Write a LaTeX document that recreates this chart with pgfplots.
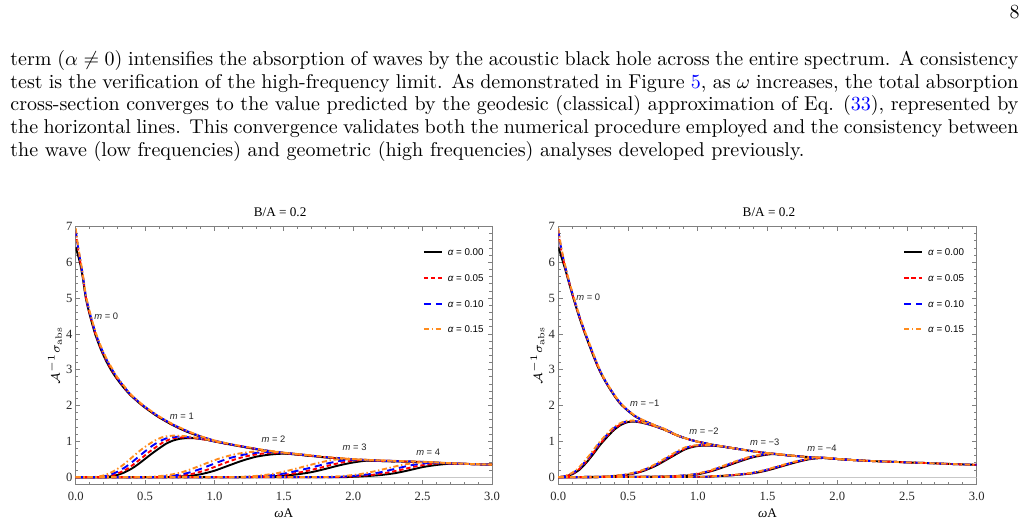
\documentclass[border=0pt]{standalone}
\usepackage{fontspec}
\usepackage{pgfplots}
\pgfplotsset{compat=1.18}
\newfontfamily\timesfont{Liberation Serif}
\newfontfamily\arialfont{Liberation Sans}
\definecolor{mred}{rgb}{1,0,0}
\definecolor{mblue}{rgb}{0,0,1}
\definecolor{morange}{RGB}{255,140,30}
\definecolor{linkblue}{rgb}{0,0,1}

\tikzset{mlab/.style={font=\arialfont\fontsize{4.7}{5}\selectfont, text=black!85, inner sep=0pt}}
\pgfplotsset{
  a0/.style={black, line width=0.95pt, smooth, tension=0.45},
  a1/.style={mred, line width=0.95pt, dash pattern=on 2.2pt off 1.4pt, smooth, tension=0.45},
  a2/.style={mblue, line width=0.95pt, dash pattern=on 3.6pt off 2.4pt, smooth, tension=0.45},
  a3/.style={morange, line width=0.95pt, dash pattern=on 2.6pt off 1.3pt on 0.7pt off 1.3pt, smooth, tension=0.45},
  absframe/.style={
    scale only axis, anchor=south west, height=128.9pt,
    xmin=0, xmax=3, ymin=-0.2, ymax=7,
    xtick={0,0.5,1,1.5,2,2.5,3}, ytick={0,1,2,3,4,5,6,7},
    minor x tick num=4, minor y tick num=4,
    tick align=inside, tick pos=both,
    xticklabel pos=lower, yticklabel pos=left,
    major tick length=2.2pt, minor tick length=1.3pt,
    every tick/.style={black!50, line width=0.4pt},
    axis line style={black!50, line width=0.5pt},
    ticklabel style={font=\timesfont\fontsize{6.3}{7}\selectfont, text=black!85},
    xticklabel style={/pgf/number format/fixed, /pgf/number format/fixed zerofill,
      /pgf/number format/precision=1, inner sep=0pt, yshift=-3.7pt},
    yticklabel style={inner sep=0pt, xshift=-1.5pt},
    /pgf/number format/assume math mode=true,
    clip mode=individual,
    legend image code/.code={\draw[#1] (0pt,0pt) -- (9pt,0pt);},
    legend cell align=left,
    legend style={draw=none, fill=none, inner sep=0pt, outer sep=0pt,
      anchor=north west, font=\arialfont\fontsize{4.9}{5}\selectfont,
      row sep=9.35pt, nodes={inner sep=0pt, text height=3.5pt, text depth=0pt},
      /tikz/every odd column/.append style={column sep=2.5pt}},
  },
}

\begin{document}
\begin{tikzpicture}[x=0.5pt,y=-0.5pt]
\useasboundingbox (0,0) rectangle (1028,524);

% page number and running text
\begingroup
\fontsize{10}{12}\selectfont
\node[anchor=base east, inner sep=0pt] at (1020,18.5) {8};
\node[anchor=base west, inner sep=0pt] at (10,66) {\makebox[504pt][s]{term ($\alpha \neq 0$) intensifies the absorption of waves by the acoustic black hole across the entire spectrum. A consistency}};
\node[anchor=base west, inner sep=0pt] at (10,88.5) {\makebox[504pt][s]{test is the verification of the high-frequency limit. As demonstrated in Figure {\color{linkblue}5}, as $\omega$ increases, the total absorption}};
\node[anchor=base west, inner sep=0pt] at (10,111) {\makebox[504pt][s]{cross-section converges to the value predicted by the geodesic (classical) approximation of Eq. ({\color{linkblue}33}), represented by}};
\node[anchor=base west, inner sep=0pt] at (10,133.5) {\makebox[504pt][s]{the horizontal lines. This convergence validates both the numerical procedure employed and the consistency between}};
\node[anchor=base west, inner sep=0pt] at (10,156) {the wave (low frequencies) and geometric (high frequencies) analyses developed previously.};
\endgroup

% ---------------- left panel: m >= 0 ----------------
\begin{axis}[absframe, at={(37.85pt,-242.15pt)}, width=208.15pt,
  legend style={at={(axis description cs:0.834,0.914)}}]
\addplot[black!22, line width=0.6pt, forget plot] coordinates {(0,0)(3,0)};
% total (m = 0 and above)
\addplot[a0, forget plot] coordinates {(0,6.42)(0.015,6.22)(0.03,6.0)(0.05,5.6)(0.073,5.0)(0.1,4.55)(0.14,4.0)(0.18,3.58)(0.22,3.24)(0.26,2.96)(0.3,2.73)(0.35,2.48)(0.4,2.27)(0.48,2.0)(0.55,1.8)(0.6,1.67)(0.7,1.45)(0.8,1.27)(0.9,1.13)(1.0,1.01)(1.1,0.92)(1.2,0.85)(1.3,0.78)(1.4,0.72)(1.5,0.67)(1.6,0.63)(1.7,0.59)(1.8,0.55)(1.9,0.52)(2.0,0.49)(2.1,0.47)(2.2,0.45)(2.3,0.44)(2.4,0.43)(2.5,0.42)(2.6,0.4)(2.7,0.38)(2.8,0.37)(2.9,0.36)(3.0,0.35)};
\addplot[a0, forget plot] coordinates {(0,0)(0.2,0)(0.25,0.02)(0.3,0.06)(0.35,0.13)(0.4,0.23)(0.45,0.36)(0.5,0.51)(0.55,0.66)(0.6,0.8)(0.65,0.93)(0.7,1.02)(0.75,1.07)(0.8,1.09)(0.85,1.09)(0.9,1.07)(0.95,1.04)(1.0,0.995)(1.05,0.96)(1.1,0.92)};
\addplot[a0, forget plot] coordinates {(0,0)(0.6,0)(0.7,0.01)(0.8,0.03)(0.9,0.08)(1.0,0.18)(1.1,0.32)(1.2,0.46)(1.3,0.57)(1.4,0.63)(1.5,0.655)(1.6,0.63)(1.7,0.59)};
\addplot[a0, forget plot] coordinates {(0,0)(1.2,0)(1.4,0.02)(1.5,0.04)(1.6,0.08)(1.7,0.14)(1.8,0.23)(1.9,0.33)(2.0,0.41)(2.1,0.46)(2.2,0.45)(2.3,0.44)};
\addplot[a0, forget plot] coordinates {(0,0)(1.8,0)(2.0,0.01)(2.1,0.03)(2.2,0.06)(2.3,0.11)(2.4,0.19)(2.5,0.28)(2.6,0.34)(2.7,0.375)(2.8,0.37)(2.9,0.36)(3.0,0.35)};
% alpha = 0.05
\addplot[a1, forget plot] coordinates {(0,6.85)(0.015,6.43)(0.03,6.08)(0.05,5.64)(0.073,5.03)(0.1,4.58)(0.14,4.03)(0.18,3.61)(0.22,3.27)(0.26,2.99)(0.3,2.75)(0.35,2.5)(0.4,2.28)(0.48,2.01)(0.55,1.81)(0.6,1.68)(0.7,1.46)(0.8,1.28)(0.9,1.135)(1.0,1.015)(1.1,0.925)(1.2,0.855)(1.3,0.785)(1.4,0.725)(1.5,0.675)(1.6,0.635)(1.7,0.595)(1.8,0.555)(1.9,0.525)(2.0,0.495)(2.1,0.475)(2.2,0.455)(2.3,0.445)(2.4,0.435)(2.5,0.423)(2.6,0.403)(2.7,0.383)(2.8,0.371)(2.9,0.36)(3.0,0.35)};
\addplot[a1, forget plot] coordinates {(0,0)(0.175,0)(0.225,0.02)(0.275,0.06)(0.325,0.14)(0.375,0.24)(0.425,0.38)(0.475,0.53)(0.525,0.69)(0.575,0.83)(0.625,0.96)(0.675,1.05)(0.725,1.1)(0.775,1.11)(0.825,1.1)(0.875,1.08)(0.925,1.05)(0.975,1.02)(1.025,0.98)(1.1,0.925)};
\addplot[a1, forget plot] coordinates {(0,0)(0.55,0)(0.65,0.01)(0.75,0.04)(0.85,0.1)(0.95,0.21)(1.05,0.36)(1.15,0.5)(1.25,0.6)(1.35,0.66)(1.45,0.68)(1.55,0.655)(1.6,0.635)(1.7,0.595)};
\addplot[a1, forget plot] coordinates {(0,0)(1.15,0)(1.35,0.02)(1.45,0.045)(1.55,0.09)(1.65,0.16)(1.75,0.25)(1.85,0.35)(1.95,0.43)(2.05,0.475)(2.15,0.465)(2.3,0.445)};
\addplot[a1, forget plot] coordinates {(0,0)(1.75,0)(1.95,0.01)(2.05,0.035)(2.15,0.07)(2.25,0.13)(2.35,0.21)(2.45,0.3)(2.55,0.36)(2.65,0.39)(2.75,0.377)(2.9,0.36)(3.0,0.35)};
% alpha = 0.10
\addplot[a2, forget plot] coordinates {(0,6.9)(0.015,6.47)(0.03,6.12)(0.05,5.67)(0.073,5.06)(0.1,4.61)(0.14,4.06)(0.18,3.64)(0.22,3.3)(0.26,3.02)(0.3,2.77)(0.35,2.52)(0.4,2.29)(0.48,2.02)(0.55,1.82)(0.6,1.69)(0.7,1.47)(0.8,1.29)(0.9,1.14)(1.0,1.02)(1.1,0.93)(1.2,0.86)(1.3,0.79)(1.4,0.73)(1.5,0.68)(1.6,0.64)(1.7,0.6)(1.8,0.56)(1.9,0.53)(2.0,0.5)(2.1,0.48)(2.2,0.46)(2.3,0.45)(2.4,0.44)(2.5,0.426)(2.6,0.406)(2.7,0.386)(2.8,0.372)(2.9,0.361)(3.0,0.35)};
\addplot[a2, forget plot] coordinates {(0,0)(0.15,0)(0.2,0.02)(0.25,0.07)(0.3,0.15)(0.35,0.26)(0.4,0.4)(0.45,0.56)(0.5,0.72)(0.55,0.87)(0.6,0.99)(0.65,1.08)(0.7,1.12)(0.75,1.13)(0.8,1.12)(0.85,1.1)(0.9,1.08)(0.95,1.04)(1.0,1.0)(1.05,0.965)(1.1,0.93)};
\addplot[a2, forget plot] coordinates {(0,0)(0.5,0)(0.6,0.01)(0.7,0.04)(0.8,0.11)(0.9,0.23)(1.0,0.38)(1.1,0.52)(1.2,0.62)(1.3,0.68)(1.4,0.7)(1.5,0.68)(1.6,0.64)(1.7,0.6)};
\addplot[a2, forget plot] coordinates {(0,0)(1.1,0)(1.3,0.02)(1.4,0.05)(1.5,0.1)(1.6,0.18)(1.7,0.27)(1.8,0.37)(1.9,0.45)(2.0,0.49)(2.1,0.475)(2.3,0.45)};
\addplot[a2, forget plot] coordinates {(0,0)(1.7,0)(1.9,0.01)(2.0,0.035)(2.1,0.075)(2.2,0.14)(2.3,0.23)(2.4,0.32)(2.5,0.38)(2.6,0.4)(2.7,0.385)(2.9,0.361)(3.0,0.35)};
% alpha = 0.15
\addplot[a3, forget plot] coordinates {(0,6.95)(0.015,6.51)(0.03,6.16)(0.05,5.7)(0.073,5.09)(0.1,4.64)(0.14,4.09)(0.18,3.67)(0.22,3.33)(0.26,3.05)(0.3,2.79)(0.35,2.54)(0.4,2.3)(0.48,2.03)(0.55,1.83)(0.6,1.7)(0.7,1.48)(0.8,1.3)(0.9,1.145)(1.0,1.025)(1.1,0.935)(1.2,0.865)(1.3,0.795)(1.4,0.735)(1.5,0.685)(1.6,0.645)(1.7,0.605)(1.8,0.565)(1.9,0.535)(2.0,0.505)(2.1,0.485)(2.2,0.465)(2.3,0.455)(2.4,0.445)(2.5,0.43)(2.6,0.41)(2.7,0.39)(2.8,0.374)(2.9,0.362)(3.0,0.35)};
\addplot[a3, forget plot] coordinates {(0,0)(0.12,0)(0.17,0.02)(0.22,0.07)(0.27,0.16)(0.32,0.28)(0.37,0.43)(0.42,0.6)(0.47,0.76)(0.52,0.9)(0.57,1.02)(0.62,1.11)(0.67,1.15)(0.72,1.16)(0.77,1.15)(0.82,1.13)(0.87,1.1)(0.92,1.07)(0.97,1.03)(1.02,0.99)(1.1,0.935)};
\addplot[a3, forget plot] coordinates {(0,0)(0.45,0)(0.55,0.01)(0.65,0.05)(0.75,0.12)(0.85,0.25)(0.95,0.4)(1.05,0.54)(1.15,0.64)(1.25,0.7)(1.35,0.73)(1.45,0.7)(1.55,0.66)(1.7,0.605)};
\addplot[a3, forget plot] coordinates {(0,0)(1.05,0)(1.25,0.02)(1.35,0.055)(1.45,0.11)(1.55,0.2)(1.65,0.3)(1.75,0.4)(1.85,0.48)(1.95,0.51)(2.05,0.49)(2.3,0.455)};
\addplot[a3, forget plot] coordinates {(0,0)(1.65,0)(1.85,0.015)(1.95,0.04)(2.05,0.085)(2.15,0.16)(2.25,0.25)(2.35,0.34)(2.45,0.4)(2.55,0.42)(2.65,0.4)(2.8,0.374)(3.0,0.35)};
\addlegendimage{a0}
\addlegendimage{a1}
\addlegendimage{a2}
\addlegendimage{a3}
\legend{{\itshape α} = 0.00, {\itshape α} = 0.05, {\itshape α} = 0.10, {\itshape α} = 0.15}
\node[mlab] at (axis cs:0.22,4.5) {{\itshape m} = 0};
\node[mlab] at (axis cs:0.765,1.69) {{\itshape m} = 1};
\node[mlab] at (axis cs:1.425,1.07) {{\itshape m} = 2};
\node[mlab] at (axis cs:2.01,0.84) {{\itshape m} = 3};
\node[mlab] at (axis cs:2.54,0.70) {{\itshape m} = 4};
\node[font=\timesfont\fontsize{6.6}{7}\selectfont] at (axis description cs:0.491,1.055) {B/A = 0.2};
\node[font=\timesfont\fontsize{6.6}{7}\selectfont] at (axis description cs:0.5,-0.111) {{\itshape ω}A};
\node[rotate=90, font=\fontsize{6.5}{7}\selectfont] at (axis description cs:-0.0497,0.5) {$\mathcal{A}^{-1}\sigma_{\mathrm{abs}}$};
\end{axis}

% ---------------- right panel: m <= 0 ----------------
\begin{axis}[absframe, at={(279.15pt,-242.15pt)}, width=209.2pt,
  legend style={at={(axis description cs:0.8246,0.914)}}]
\addplot[black!22, line width=0.6pt, forget plot] coordinates {(0,0)(3,0)};
% alpha = 0
\addplot[a0, forget plot] coordinates {(0,6.42)(0.02,6.18)(0.05,5.8)(0.08,5.38)(0.108,5.0)(0.15,4.47)(0.19,4.02)(0.24,3.5)(0.287,3.05)(0.33,2.72)(0.38,2.4)(0.44,2.07)(0.5,1.85)(0.55,1.7)(0.6,1.59)(0.657,1.5)(0.7,1.43)(0.75,1.35)(0.8,1.26)(0.85,1.17)(0.9,1.1)(0.95,1.04)(1.0,0.99)(1.1,0.91)(1.2,0.84)(1.3,0.78)(1.4,0.72)(1.5,0.67)(1.6,0.625)(1.7,0.59)(1.8,0.56)(1.9,0.535)(2.0,0.505)(2.1,0.48)(2.2,0.46)(2.3,0.44)(2.4,0.43)(2.5,0.41)(2.6,0.4)(2.7,0.385)(2.8,0.37)(2.9,0.355)(3.0,0.345)};
\addplot[a0, forget plot] coordinates {(0,0)(0.05,0.02)(0.1,0.08)(0.15,0.2)(0.2,0.4)(0.25,0.64)(0.3,0.9)(0.35,1.12)(0.4,1.32)(0.45,1.46)(0.5,1.54)(0.55,1.55)(0.6,1.52)(0.65,1.47)(0.7,1.41)(0.75,1.34)(0.8,1.26)(0.85,1.17)(0.9,1.1)};
\addplot[a0, forget plot] coordinates {(0,0)(0.3,0.01)(0.4,0.03)(0.5,0.07)(0.6,0.16)(0.7,0.32)(0.8,0.54)(0.9,0.76)(0.95,0.83)(1.0,0.87)(1.05,0.88)(1.1,0.875)(1.15,0.865)(1.2,0.84)(1.3,0.78)};
\addplot[a0, forget plot] coordinates {(0,0)(0.7,0.01)(0.9,0.04)(1.0,0.08)(1.1,0.17)(1.2,0.3)(1.3,0.44)(1.4,0.56)(1.5,0.63)(1.55,0.645)(1.6,0.625)(1.7,0.59)};
\addplot[a0, forget plot] coordinates {(0,0)(1.0,0.01)(1.1,0.02)(1.2,0.04)(1.3,0.07)(1.4,0.11)(1.5,0.19)(1.6,0.3)(1.7,0.41)(1.8,0.5)(1.9,0.535)(2.0,0.505)(2.1,0.48)(2.2,0.46)};
% alpha = 0.05
\addplot[a1, forget plot] coordinates {(0,6.85)(0.02,6.36)(0.05,5.84)(0.08,5.4)(0.108,5.02)(0.15,4.49)(0.19,4.04)(0.24,3.52)(0.287,3.06)(0.33,2.73)(0.38,2.41)(0.44,2.08)(0.5,1.86)(0.55,1.7)(0.6,1.59)(0.657,1.5)(0.7,1.43)(0.75,1.35)(0.8,1.26)(0.85,1.17)(0.9,1.1)(0.95,1.04)(1.0,0.99)(1.1,0.91)(1.2,0.842)(1.3,0.78)(1.4,0.72)(1.5,0.67)(1.6,0.628)(1.7,0.59)(1.8,0.56)(1.9,0.537)(2.0,0.507)(2.1,0.48)(2.2,0.46)(2.3,0.44)(2.4,0.43)(2.5,0.41)(2.6,0.4)(2.7,0.385)(2.8,0.37)(2.9,0.355)(3.0,0.345)};
\addplot[a1, forget plot] coordinates {(0,0)(0.045,0.02)(0.095,0.08)(0.145,0.21)(0.195,0.41)(0.245,0.65)(0.295,0.91)(0.345,1.13)(0.395,1.33)(0.445,1.47)(0.495,1.55)(0.545,1.56)(0.595,1.53)(0.645,1.48)(0.695,1.42)(0.745,1.35)(0.795,1.27)(0.85,1.17)(0.9,1.1)};
\addplot[a1, forget plot] coordinates {(0,0)(0.295,0.01)(0.395,0.03)(0.495,0.07)(0.595,0.16)(0.695,0.33)(0.795,0.55)(0.895,0.77)(0.945,0.84)(0.995,0.88)(1.045,0.89)(1.095,0.88)(1.15,0.868)(1.2,0.842)(1.3,0.78)};
\addplot[a1, forget plot] coordinates {(0,0)(0.695,0.01)(0.895,0.04)(0.995,0.085)(1.095,0.175)(1.195,0.31)(1.295,0.45)(1.395,0.57)(1.495,0.64)(1.545,0.652)(1.6,0.628)(1.7,0.59)};
\addplot[a1, forget plot] coordinates {(0,0)(0.995,0.01)(1.095,0.02)(1.195,0.04)(1.295,0.07)(1.395,0.115)(1.495,0.195)(1.595,0.305)(1.695,0.415)(1.795,0.505)(1.895,0.54)(2.0,0.507)(2.1,0.48)(2.2,0.46)};
% alpha = 0.10
\addplot[a2, forget plot] coordinates {(0,6.9)(0.02,6.4)(0.05,5.87)(0.08,5.42)(0.108,5.04)(0.15,4.51)(0.19,4.06)(0.24,3.54)(0.287,3.08)(0.33,2.74)(0.38,2.42)(0.44,2.09)(0.5,1.86)(0.55,1.71)(0.6,1.6)(0.657,1.5)(0.7,1.43)(0.75,1.36)(0.8,1.27)(0.85,1.17)(0.9,1.1)(0.95,1.04)(1.0,0.99)(1.1,0.91)(1.2,0.843)(1.3,0.78)(1.4,0.72)(1.5,0.67)(1.6,0.63)(1.7,0.59)(1.8,0.56)(1.9,0.54)(2.0,0.508)(2.1,0.48)(2.2,0.46)(2.3,0.44)(2.4,0.43)(2.5,0.41)(2.6,0.4)(2.7,0.385)(2.8,0.37)(2.9,0.355)(3.0,0.345)};
\addplot[a2, forget plot] coordinates {(0,0)(0.04,0.02)(0.09,0.09)(0.14,0.21)(0.19,0.42)(0.24,0.66)(0.29,0.92)(0.34,1.14)(0.39,1.34)(0.44,1.48)(0.49,1.56)(0.54,1.57)(0.59,1.54)(0.64,1.49)(0.69,1.43)(0.74,1.36)(0.79,1.28)(0.85,1.17)(0.9,1.1)};
\addplot[a2, forget plot] coordinates {(0,0)(0.29,0.01)(0.39,0.03)(0.49,0.075)(0.59,0.17)(0.69,0.33)(0.79,0.56)(0.89,0.78)(0.94,0.85)(0.99,0.885)(1.04,0.895)(1.09,0.885)(1.15,0.87)(1.2,0.843)(1.3,0.78)};
\addplot[a2, forget plot] coordinates {(0,0)(0.69,0.01)(0.89,0.045)(0.99,0.09)(1.09,0.18)(1.19,0.315)(1.29,0.455)(1.39,0.575)(1.49,0.645)(1.54,0.655)(1.6,0.63)(1.7,0.59)};
\addplot[a2, forget plot] coordinates {(0,0)(0.99,0.01)(1.09,0.02)(1.19,0.04)(1.29,0.072)(1.39,0.118)(1.49,0.2)(1.59,0.31)(1.69,0.42)(1.79,0.51)(1.89,0.545)(2.0,0.508)(2.1,0.48)(2.2,0.46)};
% alpha = 0.15
\addplot[a3, forget plot] coordinates {(0,6.95)(0.02,6.44)(0.05,5.9)(0.08,5.44)(0.108,5.06)(0.15,4.53)(0.19,4.08)(0.24,3.56)(0.287,3.1)(0.33,2.75)(0.38,2.43)(0.44,2.1)(0.5,1.87)(0.55,1.72)(0.6,1.61)(0.657,1.51)(0.7,1.44)(0.75,1.37)(0.8,1.28)(0.85,1.17)(0.9,1.1)(0.95,1.04)(1.0,0.99)(1.1,0.91)(1.2,0.845)(1.3,0.78)(1.4,0.72)(1.5,0.672)(1.6,0.632)(1.7,0.592)(1.8,0.56)(1.9,0.545)(2.0,0.51)(2.1,0.482)(2.2,0.46)(2.3,0.44)(2.4,0.43)(2.5,0.41)(2.6,0.4)(2.7,0.385)(2.8,0.37)(2.9,0.355)(3.0,0.345)};
\addplot[a3, forget plot] coordinates {(0,0)(0.035,0.02)(0.085,0.09)(0.135,0.22)(0.185,0.43)(0.235,0.67)(0.285,0.93)(0.335,1.15)(0.385,1.35)(0.435,1.49)(0.485,1.57)(0.535,1.58)(0.585,1.55)(0.635,1.5)(0.685,1.44)(0.735,1.37)(0.785,1.28)(0.85,1.17)(0.9,1.1)};
\addplot[a3, forget plot] coordinates {(0,0)(0.285,0.01)(0.385,0.035)(0.485,0.08)(0.585,0.17)(0.685,0.34)(0.785,0.57)(0.885,0.79)(0.935,0.86)(0.985,0.89)(1.035,0.9)(1.085,0.89)(1.15,0.872)(1.2,0.845)(1.3,0.78)};
\addplot[a3, forget plot] coordinates {(0,0)(0.685,0.012)(0.885,0.045)(0.985,0.09)(1.085,0.185)(1.185,0.32)(1.285,0.46)(1.385,0.58)(1.485,0.65)(1.535,0.66)(1.6,0.632)(1.7,0.592)};
\addplot[a3, forget plot] coordinates {(0,0)(0.985,0.01)(1.085,0.022)(1.185,0.042)(1.285,0.075)(1.385,0.12)(1.485,0.205)(1.585,0.315)(1.685,0.425)(1.785,0.515)(1.885,0.55)(2.0,0.51)(2.1,0.482)(2.2,0.46)};
\addlegendimage{a0}
\addlegendimage{a1}
\addlegendimage{a2}
\addlegendimage{a3}
\legend{{\itshape α} = 0.00, {\itshape α} = 0.05, {\itshape α} = 0.10, {\itshape α} = 0.15}
\node[mlab] at (axis cs:0.215,5.02) {{\itshape m} = 0};
\node[mlab] at (axis cs:0.62,2.05) {{\itshape m} = −1};
\node[mlab] at (axis cs:1.045,1.27) {{\itshape m} = −2};
\node[mlab] at (axis cs:1.48,0.97) {{\itshape m} = −3};
\node[mlab] at (axis cs:1.89,0.81) {{\itshape m} = −4};
\node[font=\timesfont\fontsize{6.6}{7}\selectfont] at (axis description cs:0.5036,1.055) {B/A = 0.2};
\node[font=\timesfont\fontsize{6.6}{7}\selectfont] at (axis description cs:0.5,-0.111) {{\itshape ω}A};
\node[rotate=90, font=\fontsize{6.5}{7}\selectfont] at (axis description cs:-0.0497,0.5) {$\mathcal{A}^{-1}\sigma_{\mathrm{abs}}$};
\end{axis}
\end{tikzpicture}
\end{document}
